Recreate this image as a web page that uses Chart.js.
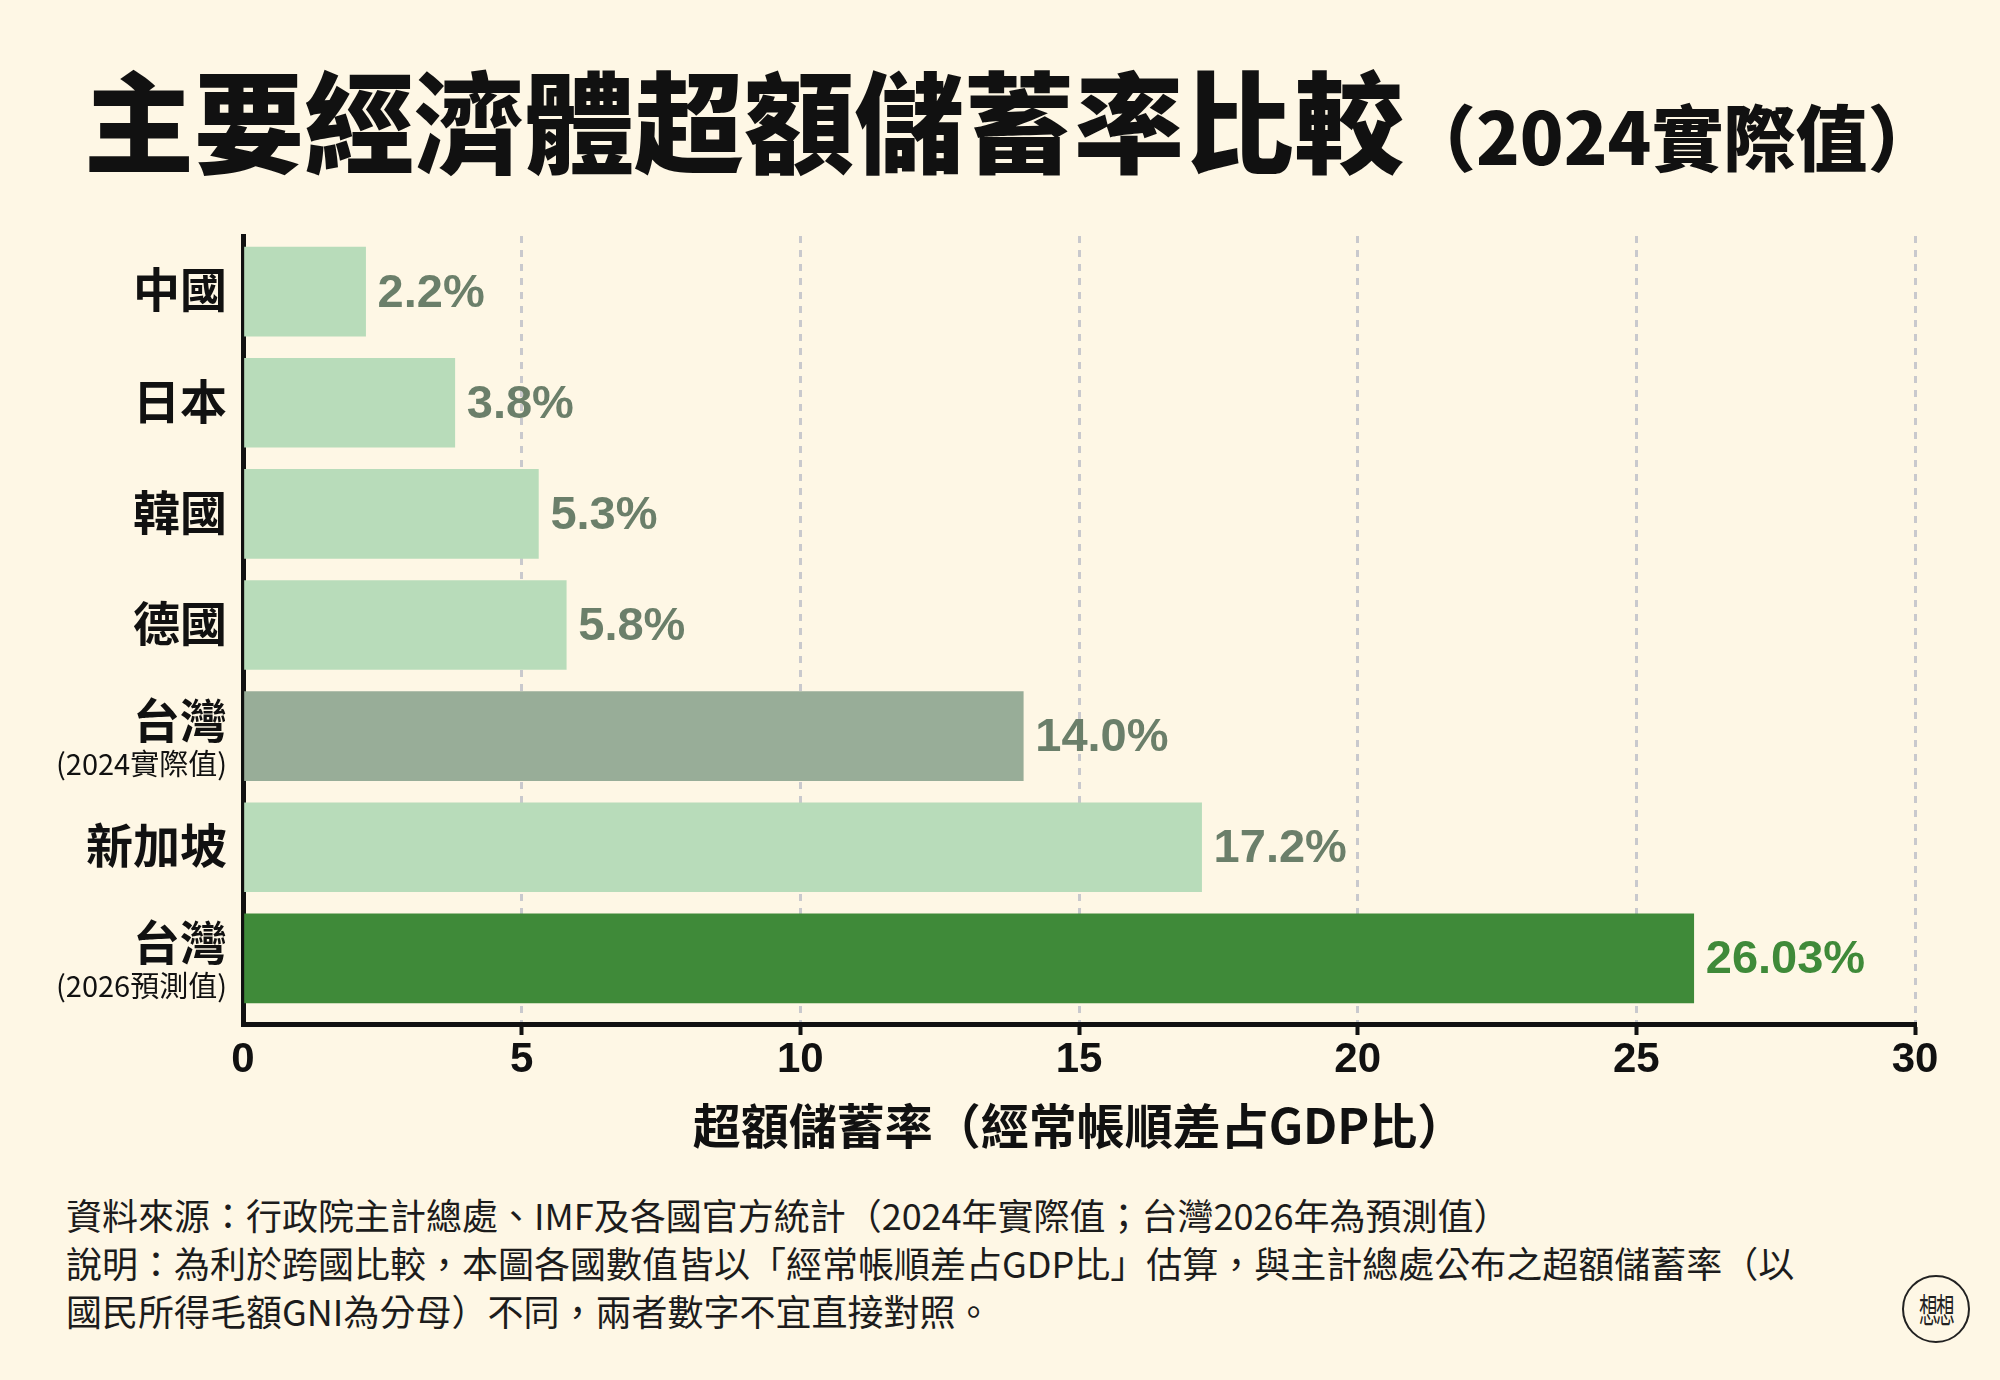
<!DOCTYPE html>
<html lang="zh-Hant">
<head>
<meta charset="utf-8">
<title>主要經濟體超額儲蓄率比較</title>
<script src="https://cdn.jsdelivr.net/npm/chart.js@4.4.1/dist/chart.umd.min.js"></script>
<style>
  html, body { margin: 0; padding: 0; background: #fef7e5; }
  body { width: 2000px; height: 1380px; position: relative; overflow: hidden; font-family: "Noto Sans CJK TC", sans-serif; color: #111; }
  #title { position: absolute; left: 84px; top: 62px; white-space: nowrap; font-weight: 900; line-height: 1; }
  #title .main { font-size: 110px; }
  #title .sub { font-size: 72px; }
  #chart { position: absolute; left: 0; top: 0; }
  #notes { position: absolute; left: 66px; top: 1190px; font-size: 36px; line-height: 48px; color: #1c1c1c; white-space: nowrap; }
  #logo { position: absolute; left: 1902px; top: 1275px; width: 64px; height: 64px; border: 2px solid #222; border-radius: 50%; display: flex; align-items: center; justify-content: center; }
  #logo span { font-size: 34px; line-height: 1; letter-spacing: -3px; transform: scaleX(0.55); color: #222; }
</style>
</head>
<body>
<div id="title"><span class="main">主要經濟體超額儲蓄率比較</span><span class="sub">（2024實際值）</span></div>
<canvas id="chart" width="2000" height="1160" style="width:2000px;height:1160px"></canvas>
<div id="notes">資料來源：行政院主計總處、IMF及各國官方統計（2024年實際值；台灣2026年為預測值）<br>說明：為利於跨國比較，本圖各國數值皆以「經常帳順差占GDP比」估算，與主計總處公布之超額儲蓄率（以<br>國民所得毛額GNI為分母）不同，兩者數字不宜直接對照。</div>
<div id="logo"><span>想想</span></div>
<script>
// data
const categories = ['中國', '日本', '韓國', '德國', '台灣', '新加坡', '台灣'];
const categoryNotes = ['', '', '', '', '(2024實際值)', '', '(2026預測值)'];
const savingRates = [2.2, 3.8, 5.3, 5.8, 14.0, 17.2, 26.03];
const rateLabels = ['2.2%', '3.8%', '5.3%', '5.8%', '14.0%', '17.2%', '26.03%'];
const xTicks = [0, 5, 10, 15, 20, 25, 30];

const barColors = ['#b8dcba', '#b8dcba', '#b8dcba', '#b8dcba', '#98ad98', '#b8dcba', '#3f8a39'];
const labelColors = ['#6b7f6a', '#6b7f6a', '#6b7f6a', '#6b7f6a', '#6b7f6a', '#6b7f6a', '#3f8a39'];

const rowLabels = {
    id: 'rowLabels',
    afterDraw(chart) {
        const ctx = chart.ctx;
        const yScale = chart.scales.y;
        const right = chart.chartArea.left - 16;
        ctx.save();
        ctx.textAlign = 'right';
        ctx.textBaseline = 'middle';
        ctx.fillStyle = '#111';
        categories.forEach(function(name, i) {
            const cy = yScale.getPixelForValue(i);
            ctx.font = 'bold 47px "Noto Sans CJK TC"';
            if (categoryNotes[i]) {
                ctx.fillText(name, right, cy - 16);
                ctx.font = '29px "Noto Sans CJK TC"';
                ctx.fillText(categoryNotes[i], right, cy + 28);
            } else {
                ctx.fillText(name, right, cy - 2);
            }
        });

        // value labels at the end of each bar
        const meta = chart.getDatasetMeta(0);
        ctx.textAlign = 'left';
        ctx.font = 'bold 47px "Liberation Sans"';
        meta.data.forEach(function(bar, i) {
            ctx.fillStyle = labelColors[i];
            ctx.fillText(rateLabels[i], bar.x + 12, bar.y + 2);
        });
        ctx.restore();
    }
};

const isZero = function(c) { return c.tick && c.tick.value === 0; };

new Chart(document.getElementById('chart'), {
    type: 'bar',
    data: {
        datasets: [{
            data: savingRates.map(function(v, i) { return {x: v, y: i}; }),
            backgroundColor: barColors,
            borderWidth: 0,
            barThickness: 89
        }]
    },
    options: {
        indexAxis: 'y',
        responsive: false,
        animation: false,
        devicePixelRatio: 1,
        layout: { padding: { top: 236, right: 85, bottom: 0, left: 0 } },
        plugins: {
            legend: { display: false },
            tooltip: { enabled: false }
        },
        scales: {
            y: {
                type: 'linear',
                reverse: true,
                offset: false,
                bounds: 'data',
                min: -0.5,
                max: 6.59,
                afterBuildTicks: function(scale) {
                    scale.ticks = categories.map(function(c, i) { return {value: i}; });
                    scale.min = -0.5;
                    scale.max = 6.59;
                },
                ticks: { display: false },
                grid: { display: false },
                border: { display: true, color: '#111', width: 5 },
                afterFit: function(scale) { scale.width = 243; }
            },
            x: {
                type: 'linear',
                min: 0,
                max: 30,
                afterBuildTicks: function(scale) {
                    scale.ticks = xTicks.map(function(v) { return {value: v}; });
                },
                ticks: {
                    color: '#111',
                    padding: 0,
                    font: { family: '"Liberation Sans"', weight: 'bold', size: 42 }
                },
                grid: {
                    color: function(c) { return isZero(c) ? 'rgba(0,0,0,0)' : '#c9c9cd'; },
                    lineWidth: 3,
                    drawTicks: true,
                    tickLength: 11,
                    tickWidth: 4,
                    tickColor: function(c) { return isZero(c) ? 'rgba(0,0,0,0)' : '#111'; },
                    tickBorderDash: []
                },
                border: { display: true, color: '#111', width: 5, dash: [7, 7] },
                title: {
                    display: true,
                    text: '超額儲蓄率（經常帳順差占GDP比）',
                    color: '#111',
                    padding: { top: 0, bottom: 5 },
                    font: { family: '"Noto Sans CJK TC"', weight: 'bold', size: 48 }
                },
                afterFit: function(scale) { scale.height = 136; }
            }
        }
    },
    plugins: [rowLabels]
});
</script>
</body>
</html>
